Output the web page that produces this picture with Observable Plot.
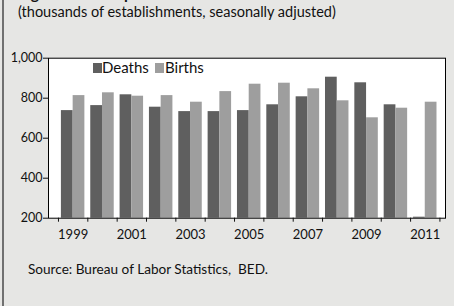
<!DOCTYPE html>
<html>
<head>
<meta charset="utf-8">
<script src="https://cdn.jsdelivr.net/npm/d3@7"></script>
<script src="https://cdn.jsdelivr.net/npm/@observablehq/plot@0.6"></script>
<style>
  html, body { margin: 0; padding: 0; background: #e6e6e4; }
  #wrap { position: relative; width: 454px; height: 306px; background: #e6e6e4; overflow: hidden; font-family: Lato, "Open Sans", sans-serif; color: #111; }
  #wrap .abs { position: absolute; white-space: nowrap; }
  #border { position: absolute; left: 2px; top: 0; width: 1.5px; height: 306px; background: #707070; }
  #title { left: 18px; top: -13.6px; font-size: 15.5px; line-height: 15.5px; font-weight: bold; }
  #subtitle { left: 18px; top: 4.9px; font-size: 14.5px; line-height: 14.5px; }
  #caption { left: 28px; top: 263px; font-size: 13.6px; line-height: 13.6px; }
  #chart { position: absolute; left: 0; top: 40px; }
  .legend-item { position: absolute; top: 60px; font-size: 15px; line-height: 15px; }
  .sw { position: absolute; width: 9px; height: 10px; top: 63.3px; }
</style>
</head>
<body>
<div id="wrap">
  <div id="border"></div>
  <div id="title" class="abs">Figure 1: Startups and Closures</div>
  <div id="subtitle" class="abs">(thousands of establishments, seasonally adjusted)</div>
  <div id="chart"></div>
  <div id="legend"></div>
  <div id="caption" class="abs">Source: Bureau of Labor Statistics,&nbsp; BED.</div>
</div>
<script>
// ---- data ----
const years  = [1999, 2000, 2001, 2002, 2003, 2004, 2005, 2006, 2007, 2008, 2009, 2010, 2011];
const deaths = [738, 763, 817, 755, 733, 733, 738, 767, 807, 905, 877, 767, 205];
const births = [813, 827, 810, 813, 780, 833, 870, 875, 847, 787, 702, 750, 780];
const seriesNames = ["Deaths", "Births"];
const seriesColors = ["#5f5f5f", "#9e9e9e"];
const yTicks = [200, 400, 600, 800, 1000];
const xTickLabels = [1999, 2001, 2003, 2005, 2007, 2009, 2011];

// ---- derived tables ----
const deathsData = years.map((year, i) => ({year, value: deaths[i]}));
const birthsData = years.map((year, i) => ({year, value: births[i]}));
const boundaries = years.map(y => y - 0.5).concat([years[years.length - 1] + 0.5]);
const half = 0.4; // each bar takes 0.4 of a year's band

const chart = Plot.plot({
  width: 454,
  height: 210,
  marginLeft: 48,
  marginRight: 9,
  marginTop: 17.7,
  marginBottom: 32.3,
  style: {background: "transparent", fontFamily: "Lato, 'Open Sans', sans-serif", color: "#111", overflow: "visible"},
  x: {domain: [1998.16, 2011.69]},
  y: {domain: [200, 1000]},
  marks: [
    Plot.frame({fill: "white"}),
    Plot.rectY(deathsData, {x1: d => d.year - half, x2: d => d.year, y1: () => 200, y2: "value", fill: seriesColors[0]}),
    Plot.rectY(birthsData, {x1: d => d.year, x2: d => d.year + half, y1: () => 200, y2: "value", fill: seriesColors[1]}),
    Plot.frame({stroke: "black"}),
    Plot.axisY({ticks: yTicks, tickSize: 5, tickPadding: 1, fontSize: 12.5, label: null, tickFormat: d3.format(",")}),
    Plot.axisX({ticks: boundaries, tickSize: 4, tickFormat: () => "", label: null}),
    Plot.axisX({ticks: xTickLabels, tickSize: 0, tickPadding: 11.3, fontSize: 13, label: null, tickFormat: d => String(d)})
  ]
});
document.getElementById("chart").appendChild(chart);

// ---- legend ----
const legend = document.getElementById("legend");
const legendX = [[93, 102], [155, 165]];
seriesNames.forEach((name, i) => {
  const sw = document.createElement("div");
  sw.className = "sw";
  sw.style.left = legendX[i][0] + "px";
  sw.style.background = seriesColors[i];
  legend.appendChild(sw);
  const t = document.createElement("div");
  t.className = "legend-item abs";
  t.style.left = legendX[i][1] + "px";
  t.textContent = name;
  legend.appendChild(t);
});
</script>
</body>
</html>
